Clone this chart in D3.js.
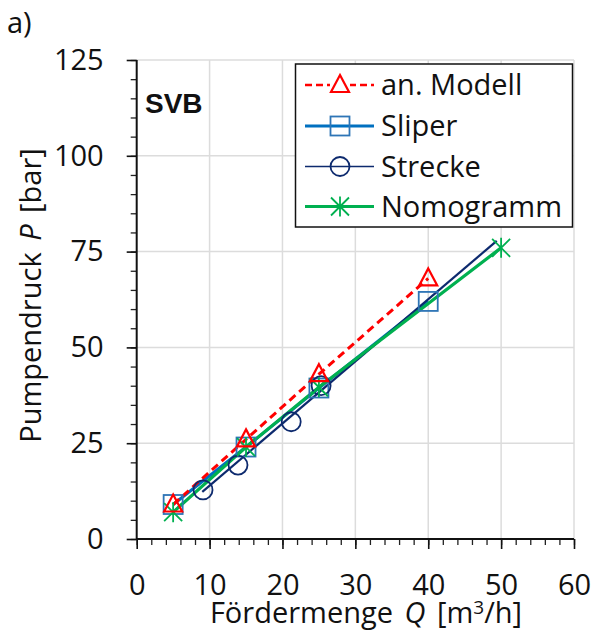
<!DOCTYPE html>
<html><head><meta charset="utf-8">
<script src="https://cdn.jsdelivr.net/npm/d3@7"></script>
<style>
body{margin:0;background:#fff;}
text{font-family:"Open Sans",sans-serif;fill:#111;}
</style></head>
<body>
<svg id="c" width="593" height="630"></svg>
<script>
// ---- data ----
const seriesNames = ["an. Modell", "Sliper", "Strecke", "Nomogramm"];
const modellQ = [5, 15, 25, 40];
const modellP = [9, 26, 43, 68];
const sliperQ = [5, 15, 25, 40];
const sliperP = [9, 24, 39.4, 62];
const streckeQ = [9.1, 13.9, 21.2, 25.3];
const streckeP = [12.8, 19.3, 30.6, 40];
const streckeFitQ = [9, 49.4];
const streckeFitP = [12.3, 77.8];
const nomoQ = [5, 15, 25, 50];
const nomoP = [7, 24, 39.6, 76];
const xTicks = [0, 10, 20, 30, 40, 50, 60];
const yTicks = [0, 25, 50, 75, 100, 125];

const colors = {modell:"#ff0000", sliper:"#0070c0", sliperMk:"#2e75b6", strecke:"#0d2a6e", nomo:"#00b050"};

const svg = d3.select("#c");
const L = 136.7, R = 574, T = 60, B = 539;
const x = d3.scaleLinear().domain([0, 60]).range([L, R]);
const y = d3.scaleLinear().domain([0, 125]).range([B, T]);
const FS = 29;

// grid
const g = svg.append("g");
g.selectAll(".vg").data(xTicks.slice(1)).join("line")
  .attr("x1", d => x(d)).attr("x2", d => x(d)).attr("y1", T).attr("y2", B)
  .attr("stroke", "#dcdcdc").attr("stroke-width", 1.5);
g.selectAll(".hg").data(yTicks.slice(1)).join("line")
  .attr("y1", d => y(d)).attr("y2", d => y(d)).attr("x1", L).attr("x2", R)
  .attr("stroke", "#dcdcdc").attr("stroke-width", 1.5);

// minor ticks
const minorX = d3.range(0, 61, 2);
const minorY = d3.range(0, 126, 5);
svg.append("g").attr("transform", `translate(0,${B})`)
  .call(d3.axisBottom(x).tickValues(minorX).tickSize(6).tickSizeOuter(0).tickFormat(""))
  .call(s => s.select(".domain").remove())
  .call(s => s.selectAll("line").attr("stroke", "#222").attr("stroke-width", 1.3));
svg.append("g").attr("transform", `translate(${L},0)`)
  .call(d3.axisLeft(y).tickValues(minorY).tickSize(6).tickSizeOuter(0).tickFormat(""))
  .call(s => s.select(".domain").remove())
  .call(s => s.selectAll("line").attr("stroke", "#222").attr("stroke-width", 1.3));

// major axes
const xa = svg.append("g").attr("transform", `translate(0,${B})`)
  .call(d3.axisBottom(x).tickValues(xTicks).tickSize(10).tickSizeOuter(0).tickPadding(25));
const ya = svg.append("g").attr("transform", `translate(${L},0)`)
  .call(d3.axisLeft(y).tickValues(yTicks).tickSize(10).tickSizeOuter(0).tickPadding(23));
[xa, ya].forEach(a => {
  a.selectAll("text").style("font-family", '"Open Sans",sans-serif').style("font-size", FS + "px").attr("fill", "#111");
  a.selectAll(".tick line").attr("stroke", "#111").attr("stroke-width", 1.6);
  a.select(".domain").attr("stroke", "#111").attr("stroke-width", 2);
});
xa.select(".domain").attr("d", `M${L},0H${R}`);
ya.select(".domain").attr("d", `M0,${B}V${T}`);

// titles
const yt = svg.append("text").attr("transform", `translate(41,${(T + B) / 2 - 4}) rotate(-90)`)
  .attr("text-anchor", "middle").style("font-size", FS + "px").style("word-spacing", "4px");
yt.append("tspan").text("Pumpendruck ");
yt.append("tspan").attr("font-style", "italic").text("P");
yt.append("tspan").text(" [bar]");

const xt = svg.append("text").attr("x", 366).attr("y", 623)
  .attr("text-anchor", "middle").style("font-size", FS + "px").style("word-spacing", "4px");
xt.append("tspan").text("Fördermenge ");
xt.append("tspan").attr("font-style", "italic").text("Q");
xt.append("tspan").text(" [m");
xt.append("tspan").attr("dy", -9).style("font-size", "19px").text("3");
xt.append("tspan").attr("dy", 9).text("/h]");

svg.append("text").attr("x", 7).attr("y", 33).style("font-size", FS + "px").text("a)");
svg.append("text").attr("x", 145).attr("y", 112.5)
  .style("font-family", '"Liberation Sans",Arial,sans-serif').style("font-weight", "bold")
  .style("font-size", "28px").text("SVB");

// lines
const line = d3.line().x(d => x(d[0])).y(d => y(d[1]));
const zip = (a, b) => a.map((v, i) => [v, b[i]]);

const plot = svg.append("g");
plot.append("path").datum(zip(sliperQ, sliperP)).attr("d", line)
  .attr("fill", "none").attr("stroke", colors.sliper).attr("stroke-width", 3);
plot.append("path").datum(zip(streckeFitQ, streckeFitP)).attr("d", line)
  .attr("fill", "none").attr("stroke", colors.strecke).attr("stroke-width", 2.2);
plot.append("path").datum(zip(nomoQ, nomoP)).attr("d", line)
  .attr("fill", "none").attr("stroke", colors.nomo).attr("stroke-width", 3.2);
plot.append("path").datum(zip(modellQ, modellP)).attr("d", line)
  .attr("fill", "none").attr("stroke", colors.modell).attr("stroke-width", 3).attr("stroke-dasharray", "8,5");

// marker drawers
function tri(sel, c) { sel.append("path").attr("d", "M0,-10L9,7L-9,7Z").attr("fill", "none").attr("stroke", c).attr("stroke-width", 2.2); }
function sq(sel, c) { sel.append("rect").attr("x", -9.5).attr("y", -9.5).attr("width", 19).attr("height", 19).attr("fill", "none").attr("stroke", c).attr("stroke-width", 1.8); }
function circ(sel, c) { sel.append("circle").attr("r", 9.5).attr("fill", "none").attr("stroke", c).attr("stroke-width", 1.8); }
function star(sel, c) { sel.append("path").attr("d", "M-9,-9L9,9M-9,9L9,-9M0,-10V10").attr("fill", "none").attr("stroke", c).attr("stroke-width", 1.8); }

function markers(Q, P, fn, c) {
  plot.append("g").selectAll("g").data(zip(Q, P)).join("g")
    .attr("transform", d => `translate(${x(d[0])},${y(d[1])})`)
    .each(function () { fn(d3.select(this), c); });
}
markers(sliperQ, sliperP, sq, colors.sliperMk);
markers(streckeQ, streckeP, circ, colors.strecke);
markers(nomoQ, nomoP, star, colors.nomo);
markers(modellQ, modellP, tri, colors.modell);

// legend
const lg = svg.append("g");
lg.append("rect").attr("x", 295.5).attr("y", 64).attr("width", 277).attr("height", 163)
  .attr("fill", "#fff").attr("stroke", "#111").attr("stroke-width", 1.5);
const legendDefs = [
  {color: colors.modell, mc: colors.modell, w: 2.5, dash: "7,4", fn: tri},
  {color: colors.sliper, mc: colors.sliperMk, w: 3, dash: null, fn: sq},
  {color: colors.strecke, mc: colors.strecke, w: 1.5, dash: null, fn: circ},
  {color: colors.nomo, mc: colors.nomo, w: 3, dash: null, fn: star}
];
const rowY = [85, 126, 166.5, 206.5];
seriesNames.forEach((n, i) => {
  const d = legendDefs[i];
  const r = lg.append("g").attr("transform", `translate(0,${rowY[i]})`);
  r.append("line").attr("x1", 305).attr("x2", 374).attr("y1", 0).attr("y2", 0)
    .attr("stroke", d.color).attr("stroke-width", d.w).attr("stroke-dasharray", d.dash);
  const m = r.append("g").attr("transform", "translate(340,0)");
  if (i === 0) m.append("rect").attr("x", -10).attr("y", -9).attr("width", 20).attr("height", 18).attr("fill", "#fff");
  d.fn(m, d.mc);
  r.append("text").attr("x", 381).attr("y", 10).style("font-size", FS + "px").text(n);
});
</script>
</body></html>
